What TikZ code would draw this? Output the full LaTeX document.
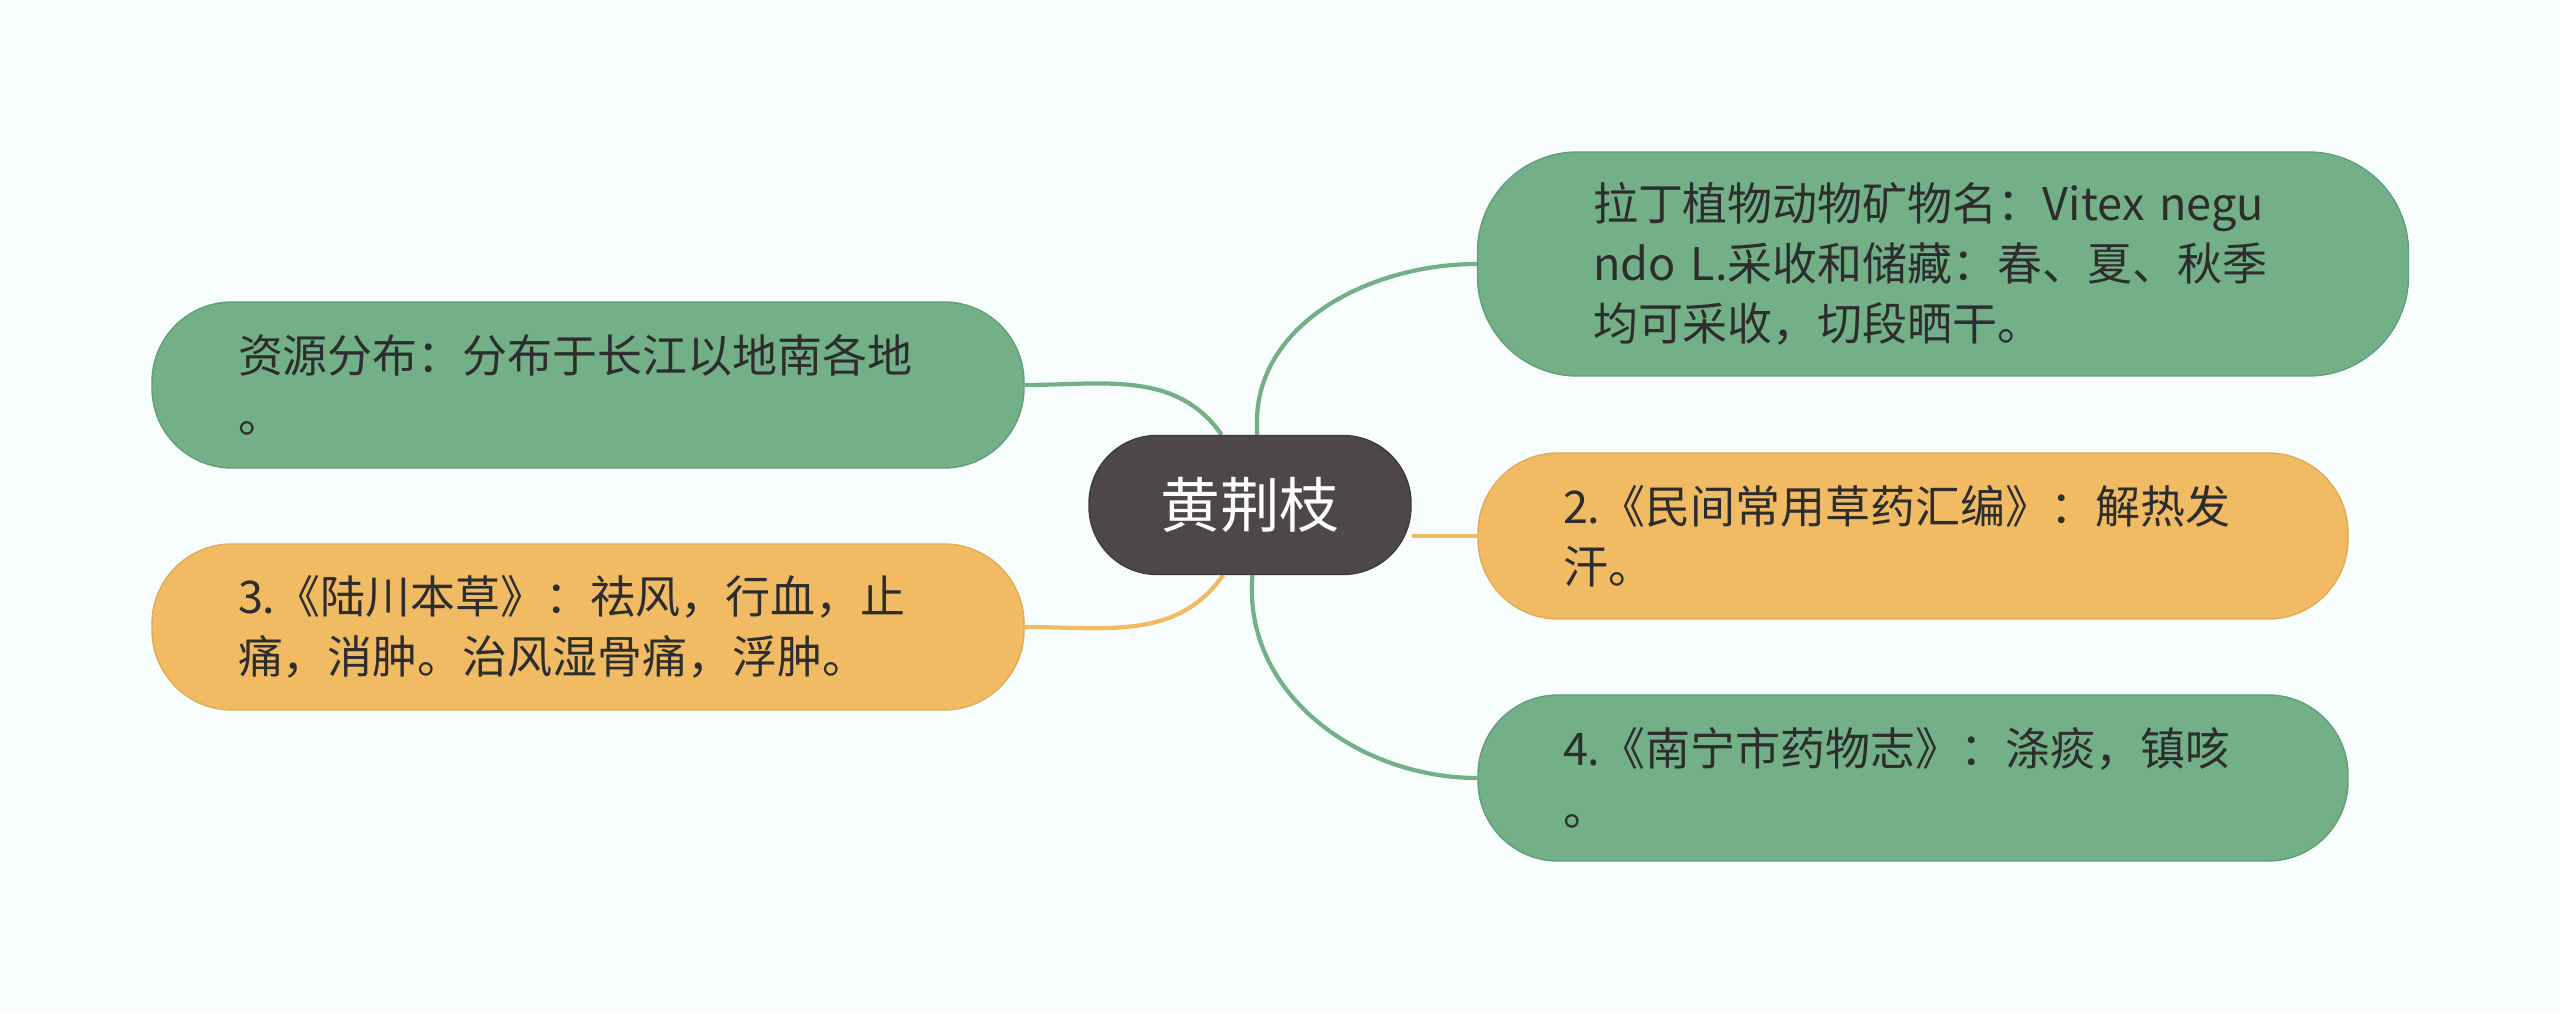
\documentclass[tikz,border=0pt]{standalone}
\usepackage{fontspec}
\setmainfont{Noto Sans CJK SC}
\definecolor{paper}{RGB}{248,253,253}
\definecolor{leafgreen}{RGB}{115,176,135}
\definecolor{edgegreen}{RGB}{96,160,118}
\definecolor{leafgold}{RGB}{240,187,99}
\definecolor{edgegold}{RGB}{226,170,85}
\definecolor{rootgray}{RGB}{77,72,71}
\definecolor{inkgray}{RGB}{45,45,45}
\pgfdeclarelayer{back}
\pgfdeclarelayer{links}
\pgfsetlayers{back,links,main}
\begin{document}
\begin{tikzpicture}[
  leaf/.style={draw, rounded corners=0.8cm, minimum height=1.66cm, text width=7cm, align=left, inner sep=0pt, text=inkgray, font=\fontsize{12.8}{17}\selectfont},
  green/.style={leaf, fill=leafgreen, draw=edgegreen},
  gold/.style={leaf, fill=leafgold, draw=edgegold},
  link/.style={line width=1.2pt}]
\begin{pgfonlayer}{back}
\fill[paper] (0,0) rectangle (25.6,10.13);
\end{pgfonlayer}
\node[draw=rootgray!80!black, fill=rootgray, rounded corners=0.68cm, minimum width=3.22cm, minimum height=1.39cm, text=white, font=\fontsize{17}{20}\selectfont] (nid0) at (12.5,5.08){黄荆枝};
\node[green, minimum width=8.72cm] (nid1) at (5.88,6.28){资源分布：分布于长江以地南各地\\。};
\node[gold, minimum width=8.72cm] (nid2) at (5.88,3.86){3.《陆川本草》：祛风，行血，止\\痛，消肿。治风湿骨痛，浮肿。};
\node[green, minimum width=9.31cm, minimum height=2.24cm, rounded corners=1cm] (nid3) at (19.43,7.49){拉丁植物动物矿物名：Vitex negu\\ndo L.采收和储藏：春、夏、秋季\\均可采收，切段晒干。};
\node[gold, minimum width=8.7cm] (nid4) at (19.13,4.77){2.《民间常用草药汇编》：解热发\\汗。};
\node[green, minimum width=8.7cm] (nid5) at (19.13,2.35){4.《南宁市药物志》：涤痰，镇咳\\。};
\begin{pgfonlayer}{links}
\draw[link, leafgreen] (nid1.east) to[out=0, in=125] (nid0.112);
\draw[link, leafgold] (nid2.east) to[out=0, in=-125] (nid0.249);
\draw[link, leafgreen] (nid0.84) to[out=95, in=180] (nid3.west);
\draw[link, leafgold] (nid4.west) -- (nid4.west -| nid0.east);
\draw[link, leafgreen] (nid0.272) to[out=-95, in=180] (nid5.west);
\end{pgfonlayer}
\end{tikzpicture}
\end{document}
